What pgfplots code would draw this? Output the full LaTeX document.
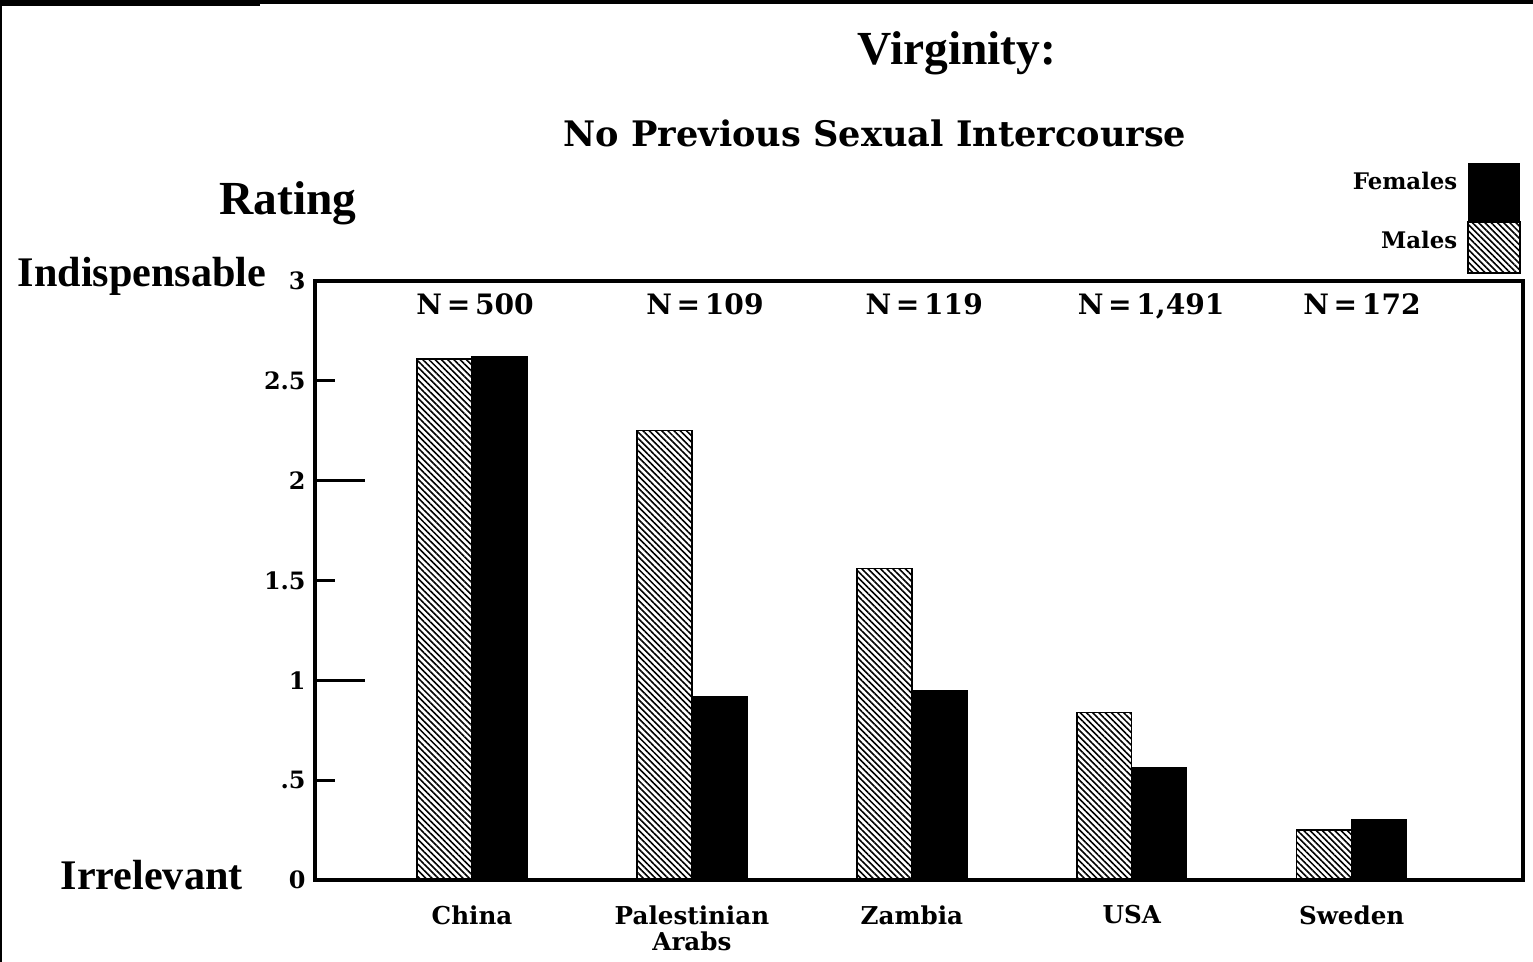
\documentclass[border=0pt]{standalone}
\usepackage{fontspec}
\setmainfont{Liberation Serif}
\newfontfamily\cent{DejaVu Serif}
\usepackage{pgfplots}
\pgfplotsset{compat=1.18}
\usetikzlibrary{patterns.meta}

\tikzset{hatch/.style={pattern={Lines[angle=-45,distance=1.25pt,line width=0.45pt]}, pattern color=black}}

\begin{document}
\begin{tikzpicture}[x=1cm,y=1cm]
\useasboundingbox (0,0) rectangle (15.33,9.62);
% screenshot edges
\fill[black] (0,9.58) rectangle (15.33,9.62);
\fill[black] (0,9.56) rectangle (2.6,9.62);
\fill[black] (0,0) rectangle (0.025,9.62);

\node[anchor=base, font=\bfseries\fontsize{13.5}{15}\selectfont] at (9.57,8.97) {Virginity:};
\node[anchor=base, font=\cent\bfseries\fontsize{10}{12}\selectfont] at (8.75,8.15) {No Previous Sexual Intercourse};
\node[anchor=base, font=\bfseries\fontsize{13.5}{15}\selectfont] at (2.88,7.47) {Rating};
\node[anchor=base west, font=\bfseries\fontsize{12}{14}\selectfont, inner sep=0pt] at (0.17,6.75) {Indispensable};
\node[anchor=base west, font=\bfseries\fontsize{12}{14}\selectfont, inner sep=0pt] at (0.60,0.72) {Irrelevant};

\begin{axis}[
  at={(3.15cm,0.82cm)}, anchor=south west,
  scale only axis, width=12.08cm, height=5.99cm,
  ymin=0, ymax=3, xmin=-0.714, xmax=4.779,
  ybar=0pt, bar width=0.25,
  axis line style={line width=0.9pt},
  xtick={0,...,4},
  xticklabels={China, Palestinian\\Arabs, Zambia, USA, Sweden},
  x tick label style={font=\cent\bfseries\fontsize{7}{7.6}\selectfont, align=center, yshift=-0.13cm},
  x tick style={draw=none},
  ytick={1,2}, yticklabels={1,2},
  extra y ticks={0,0.5,1.5,2.5,3}, extra y tick labels={0,.5,1.5,2.5,3},
  extra y tick style={major tick length=0.2cm},
  ytick pos=left, tick align=inside, major tick length=0.5cm,
  y tick style={line width=0.9pt, black},
  y tick label style={font=\cent\bfseries\fontsize{6.8}{7}\selectfont, xshift=0.03cm},
  clip=false,
]
\addplot[draw=black, line width=0.4pt, hatch] coordinates {
 (0,2.61)(1,2.25)(2,1.56)(3,0.84)(4,0.25)};
\addplot[draw=black, line width=0.4pt, fill=black] coordinates {
 (0,2.62)(1,0.92)(2,0.95)(3,0.56)(4,0.30)};

\begin{scope}[every node/.style={anchor=base, font=\cent\bfseries\fontsize{8}{9}\selectfont}]
\node at (axis cs:0.014,2.834) {N\,=\,500};
\node at (axis cs:1.059,2.834) {N\,=\,109};
\node at (axis cs:2.056,2.834) {N\,=\,119};
\node at (axis cs:3.088,2.834) {N\,=\,1,491};
\node at (axis cs:4.047,2.834) {N\,=\,172};
\end{scope}
\end{axis}

% legend
\fill[black] (14.68,7.40) rectangle (15.20,7.99);
\draw[line width=0.5pt, hatch] (14.68,6.89) rectangle (15.20,7.40);
\node[anchor=base east, inner sep=0pt, font=\cent\bfseries\fontsize{6.5}{7}\selectfont] at (14.58,7.72) {Females};
\node[anchor=base east, inner sep=0pt, font=\cent\bfseries\fontsize{6.5}{7}\selectfont] at (14.58,7.13) {Males};
\end{tikzpicture}
\end{document}
